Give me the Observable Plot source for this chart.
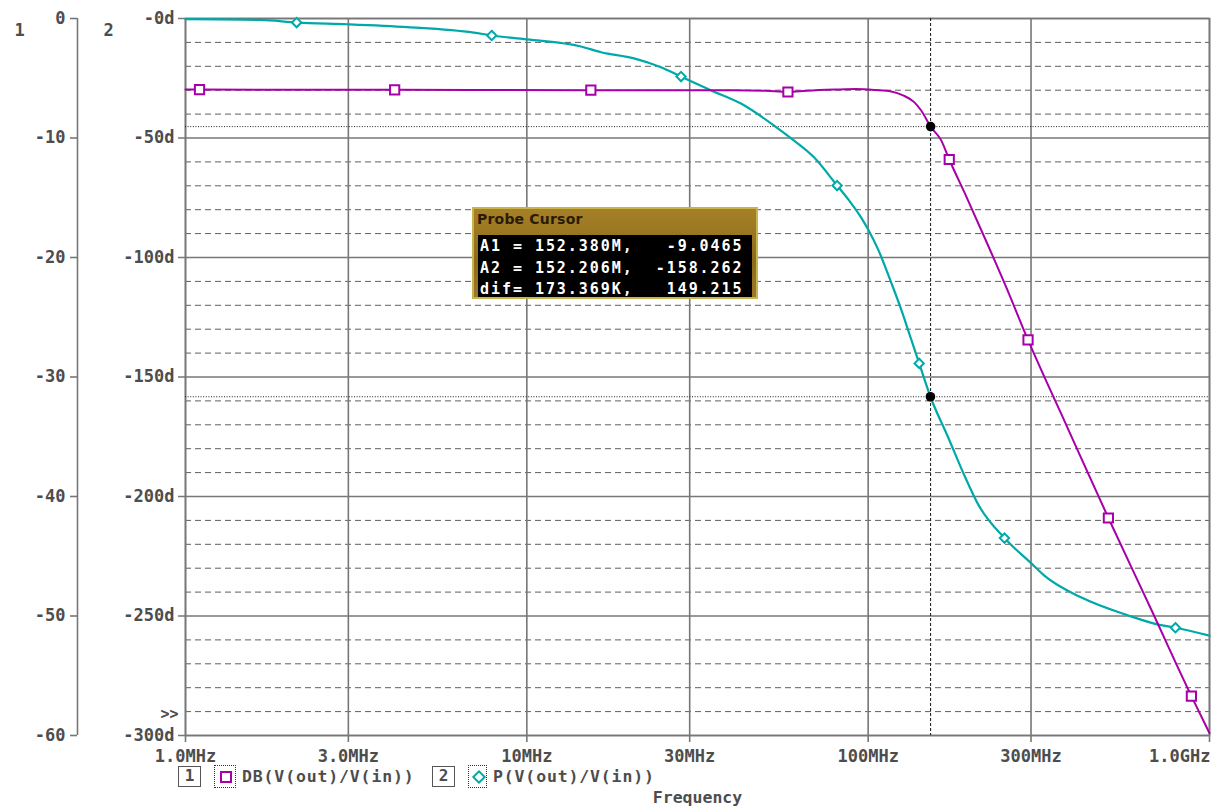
<!DOCTYPE html>
<html>
<head>
<meta charset="utf-8">
<script src="https://cdn.jsdelivr.net/npm/d3@7"></script>
<script src="https://cdn.jsdelivr.net/npm/@observablehq/plot@0.6"></script>
<style>
  html, body { margin: 0; padding: 0; background: #fff; }
  #wrap { position: relative; width: 1211px; height: 809px; overflow: hidden; }
  .abs { position: absolute; }
  .mono { font-family: "DejaVu Sans Mono", monospace; font-weight: bold; color: #4d4d4d; }
  .probe { left: 472px; top: 207px; width: 282px; height: 88px; border: 2px solid #c8b44c;
           background: linear-gradient(#a58027, #8d6b1d 60%, #9a7a2a); }
  .ptitle { position: absolute; left: 3px; top: 2px; font-family: "DejaVu Sans", sans-serif; font-weight: bold;
            font-size: 14px; color: #2a1b02; letter-spacing: 0.2px; }
  .pbody { position: absolute; left: 4px; top: 26px; width: 274px; height: 62px; background: #000;
           color: #fff; font-family: "DejaVu Sans Mono", monospace; font-weight: bold; font-size: 15px;
           letter-spacing: 1.95px; white-space: pre; line-height: 21.5px; padding-left: 2px; box-sizing: border-box; padding-top: 1px; }
  .lbox { border: 1.5px solid #555; box-sizing: border-box; text-align: center; font-size: 16px; line-height: 18px; }
  .dbox { border: 1px dotted #333; box-sizing: border-box; }
</style>
</head>
<body>
<div id="wrap">
  <div id="chart"></div>
</div>
<script>
// ---- data ----
const xTicks = [1, 3, 10, 30, 100, 300, 1000];               // MHz
const xTickLabels = ["1.0MHz", "3.0MHz", "10MHz", "30MHz", "100MHz", "300MHz", "1.0GHz"];
const majorY = [0, -10, -20, -30, -40, -50, -60];           // dB (axis 1)
const minorY = [-2, -4, -6, -8, -12, -14, -16, -18, -22, -24, -26, -28, -32, -34, -36, -38,
                -42, -44, -46, -48, -52, -54, -56, -58];
const dbTickLabels = ["0", "-10", "-20", "-30", "-40", "-50", "-60"];
const phTickLabels = ["-0d", "-50d", "-100d", "-150d", "-200d", "-250d", "-300d"];

// DB(V(out)/V(in))
const dbFreq = [1, 1.1, 4.1, 15.4, 40, 50, 58.2, 66, 80, 92.2, 105, 116.8, 127, 136.4, 143.0, 152.38,
                163.7, 172.8, 193.9, 221.9, 253.9, 294, 385.9, 505.6, 676, 885, 1000];
const dbVal  = [-5.95, -5.95, -5.97, -6.0, -6.0, -6.05, -6.15, -6.05, -5.95, -5.9, -5.98, -6.1, -6.45, -7.0, -7.7, -9.05,
                -10.2, -11.8, -14.9, -18.66, -22.5, -26.9, -34.4, -41.8, -49.5, -56.7, -59.8];
const dbMarkFreq = [1.099, 4.10, 15.4, 58.2, 172.8, 294, 505.6, 885];
const dbMarkVal  = [-5.95, -5.97, -6.0, -6.15, -11.8, -26.9, -41.8, -56.7];

// P(V(out)/V(in)) in degrees
const phFreq = [1, 1.66, 2.116, 2.986, 4.48, 6.99, 7.89, 10, 14.4, 16.5, 20.6, 24.7, 28.3, 34.7, 42.4,
                53.0, 59.5, 69.5, 81.1, 88.0, 95.4, 100, 107.0, 116.8, 125, 133.7, 141.1, 152.206, 171.6, 191.4, 210.4,
                250.8, 300.7, 328.2, 421.7, 578.4, 708, 794.6, 1000];
const phVal  = [-0.3, -0.6, -1.7, -2.4, -3.6, -5.9, -7.1, -8.7, -11.7, -14.1, -16.7, -20.4, -24.3, -30.1, -35.6,
                -44.8, -50.2, -58.2, -69.9, -76.2, -83.3, -88.3, -96.7, -110.5, -121.8, -134.3, -144.3, -158.262, -175.3, -191.2, -203.5,
                -217.4, -228.0, -233.1, -242.3, -249.8, -253.6, -254.9, -258.2];
const phMarkFreq = [2.116, 7.89, 28.3, 81.1, 141.1, 250.8, 794.6];
const phMarkVal  = [-1.7, -7.1, -24.3, -69.9, -144.3, -217.4, -254.9];

// probe cursor
const cursorNames = ["A1 =", "A2 =", "dif="];
const cursorFreqText = ["152.380M", "152.206M", "173.369K"];
const cursorValText = ["-9.0465", "-158.262", "149.215"];
const cursorA1 = {f: 152.380, v: -9.0465};     // on trace 1 (dB)
const cursorA2 = {f: 152.206, p: -158.262};    // on trace 2 (deg)

const DEG_PER_DB = 5;  // axis 2: -300d spans the same height as axis 1: -60
const MAG = "#a800a8", TEAL = "#00a9a9", TXT = "#4d4d4d";

const dbRows = dbFreq.map((f, i) => ({f, v: dbVal[i]}));
const dbMarks = dbMarkFreq.map((f, i) => ({f, v: dbMarkVal[i]}));
const phRows = phFreq.map((f, i) => ({f, p: phVal[i]}));
const phMarks = phMarkFreq.map((f, i) => ({f, p: phMarkVal[i]}));
const phY = d => d.p / DEG_PER_DB;

const textOpts = {fontFamily: "DejaVu Sans Mono, monospace", fontWeight: "bold", fontSize: 17, fill: TXT, lineAnchor: "middle"};

const chart = Plot.plot({
  width: 1211, height: 809,
  marginLeft: 185, marginRight: 2, marginTop: 18, marginBottom: 74,
  x: {type: "log", domain: [1, 1000], axis: null},
  y: {domain: [-60, 0], axis: null},
  style: {background: "#fff", color: TXT, fontFamily: "DejaVu Sans Mono, monospace"},
  marks: [
    // grids
    Plot.ruleY(minorY, {stroke: "#5e5e5e", strokeWidth: 1, strokeDasharray: "6,4"}),
    Plot.ruleY(majorY, {stroke: "#777", strokeWidth: 1.6, insetLeft: -7}),
    Plot.ruleX(xTicks, {stroke: "#777", strokeWidth: 1.6, insetBottom: -7}),
    Plot.frame({stroke: "#777", strokeWidth: 1.6}),
    // axis 1 (dB) offset to the left
    Plot.ruleX([1], {dx: -108, stroke: "#777", strokeWidth: 1.6}),
    Plot.ruleY(majorY, {x1: 1, x2: 1, insetLeft: -7, dx: -108, stroke: "#777", strokeWidth: 1.6}),
    Plot.text(majorY, {y: d => d, frameAnchor: "left", dx: -120, textAnchor: "end",
      text: d => dbTickLabels[majorY.indexOf(d)], ...textOpts}),
    // axis 2 (degrees)
    Plot.text(majorY, {y: d => d, frameAnchor: "left", dx: -11, textAnchor: "end",
      text: d => phTickLabels[majorY.indexOf(d)], ...textOpts}),
    Plot.text(["1"], {frameAnchor: "top-left", dx: -171, dy: 12, text: d => d, ...textOpts}),
    Plot.text(["2"], {frameAnchor: "top-left", dx: -82, dy: 12, text: d => d, ...textOpts}),
    Plot.text([">>"], {frameAnchor: "bottom-left", dx: -7, dy: -21, textAnchor: "end", text: d => d,
      ...textOpts, fontSize: 15}),
    // x tick labels
    Plot.text(xTicks.slice(0, -1), {x: d => d, frameAnchor: "bottom", dy: 21.5,
      text: d => xTickLabels[xTicks.indexOf(d)], ...textOpts}),
    Plot.text(xTicks.slice(-1), {x: d => d, frameAnchor: "bottom", dy: 21.5, textAnchor: "end", dx: 1,
      text: d => xTickLabels[xTicks.indexOf(d)], ...textOpts}),
    Plot.text(["Frequency"], {frameAnchor: "bottom", dy: 62.5, text: d => d, ...textOpts, fontSize: 16.5}),
    // cursor lines
    Plot.ruleX([cursorA1.f], {stroke: "#111", strokeWidth: 1, strokeDasharray: "3,2"}),
    Plot.ruleY([cursorA1.v, cursorA2.p / DEG_PER_DB], {stroke: "#222", strokeWidth: 1, strokeDasharray: "1,1.6"}),
    // traces
    Plot.line(phRows, {x: "f", y: phY, stroke: TEAL, strokeWidth: 2.2, curve: "monotone-x"}),
    Plot.line(dbRows, {x: "f", y: "v", stroke: MAG, strokeWidth: 2, curve: "monotone-x"}),
    Plot.dot(phMarks, {x: "f", y: phY, symbol: "diamond2", r: 4.2, stroke: TEAL, strokeWidth: 2, fill: "#fff"}),
    Plot.dot(dbMarks, {x: "f", y: "v", symbol: "square", r: 5.2, stroke: MAG, strokeWidth: 2, fill: "#fff"}),
    // cursor points
    Plot.dot([cursorA1], {x: "f", y: "v", r: 4.8, fill: "#000"}),
    Plot.dot([cursorA2], {x: "f", y: phY, r: 4.8, fill: "#000"})
  ]
});

const wrap = document.getElementById("wrap");
document.getElementById("chart").appendChild(chart);

// probe cursor window
const probe = document.createElement("div");
probe.className = "abs probe";
const lines = cursorNames.map((n, i) => `${n} ${cursorFreqText[i]},${cursorValText[i].padStart(10)}`);
probe.innerHTML = `<div class="ptitle">Probe Cursor</div><div class="pbody">${lines.join("\n")}</div>`;
wrap.appendChild(probe);

// legend
const legendItems = [
  {num: "1", name: "DB(V(out)/V(in))", color: MAG, kind: "square", boxX: 178, symX: 214, symW: 22, textX: 242},
  {num: "2", name: "P(V(out)/V(in))", color: TEAL, kind: "diamond", boxX: 432, symX: 468, symW: 19, textX: 493}
];
for (const it of legendItems) {
  const b = document.createElement("div");
  b.className = "abs mono lbox";
  Object.assign(b.style, {left: it.boxX + "px", top: "766px", width: "23px", height: "21px"});
  b.textContent = it.num;
  wrap.appendChild(b);
  const s = document.createElement("div");
  s.className = "abs dbox";
  Object.assign(s.style, {left: it.symX + "px", top: "765px", width: it.symW + "px", height: "23px"});
  const m = document.createElement("div");
  m.className = "abs";
  if (it.kind === "square") {
    Object.assign(m.style, {left: (it.symW / 2 - 6) + "px", top: "4.5px", width: "8px", height: "8px",
      border: `2px solid ${it.color}`, background: "#fff"});
  } else {
    Object.assign(m.style, {left: (it.symW / 2 - 5) + "px", top: "6px", width: "6px", height: "6px",
      border: `2px solid ${it.color}`, transform: "rotate(45deg)", background: "#fff"});
  }
  s.appendChild(m);
  wrap.appendChild(s);
  const t = document.createElement("div");
  t.className = "abs mono";
  Object.assign(t.style, {left: it.textX + "px", top: "766px", fontSize: "16.5px", letterSpacing: "0.85px",
    lineHeight: "22px", whiteSpace: "pre"});
  t.textContent = it.name;
  wrap.appendChild(t);
}
</script>
</body>
</html>
